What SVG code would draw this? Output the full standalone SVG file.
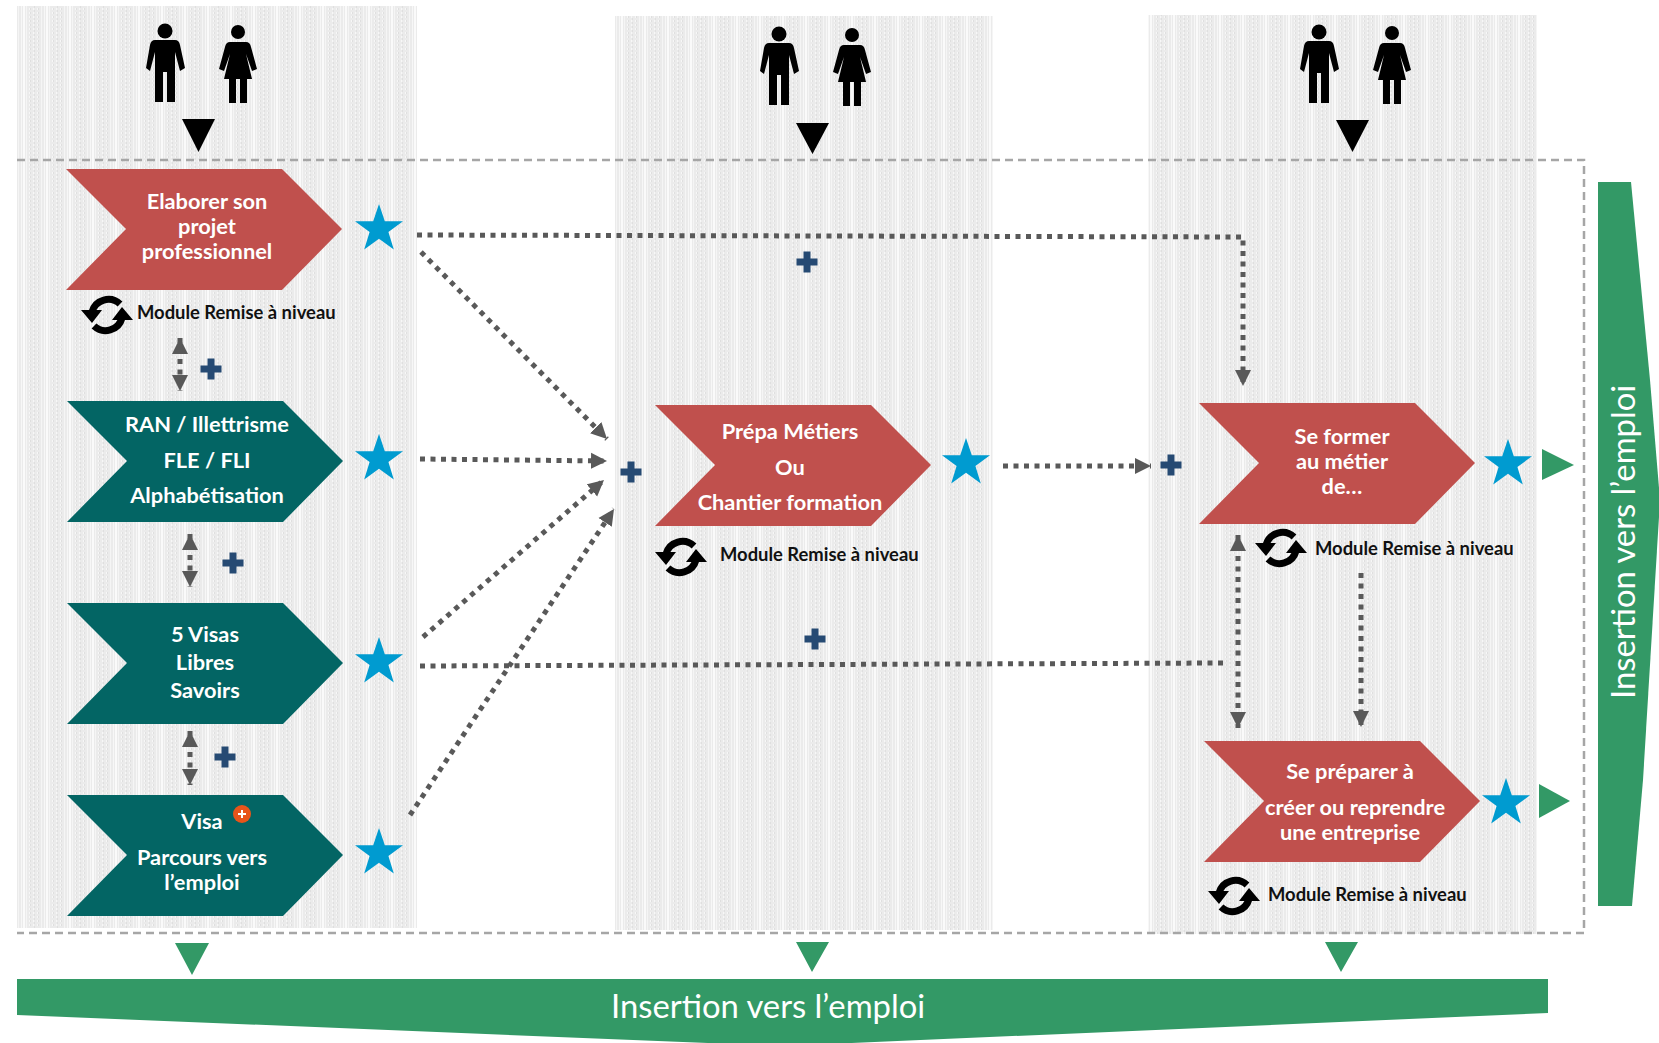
<svg xmlns="http://www.w3.org/2000/svg" width="1659" height="1043" viewBox="0 0 1659 1043">
<style>
.lbl{font-family:"Lato","Open Sans","Liberation Sans",sans-serif;font-size:21.800px;font-weight:700;fill:#fff;text-anchor:middle}
.mod{font-family:"Lato","Open Sans","Liberation Sans",sans-serif;font-size:18.400px;font-weight:700;fill:#111}
.band{font-family:"Lato","Open Sans","Liberation Sans",sans-serif;font-size:32.800px;fill:#fff}
.red{fill:#c0504d}.teal{fill:#036564}.star{fill:#009bd0}.green{fill:#339966}.plus{fill:#264a73}
.dot{fill:none;stroke:#595959;stroke-width:5;stroke-dasharray:5 5.500}
.arr{marker-end:url(#ah)}.both{marker-start:url(#ah);marker-end:url(#ah)}
</style>
<defs>
<pattern id="hatch" width="23" height="4" patternUnits="userSpaceOnUse">
<rect width="23" height="4" fill="#ebebeb"/>
<rect x="0" width="2" height="4" fill="#fafafa"/>
<rect x="3" width="1" height="4" fill="#f5f5f5"/>
<rect x="6" width="1" height="2" fill="#f7f7f7"/><rect x="7" width="1" height="2" fill="#dfdfdf"/>
<rect x="10" width="1" height="2" fill="#f7f7f7"/><rect x="11" y="2" width="1" height="2" fill="#dfdfdf"/>
<rect x="14" width="1" height="2" fill="#f7f7f7"/><rect x="15" width="1" height="2" fill="#dfdfdf"/>
<rect x="18" width="1" height="4" fill="#f5f5f5"/><rect x="21" width="1" height="4" fill="#f7f7f7"/>
</pattern>
<marker id="ah" markerUnits="userSpaceOnUse" markerWidth="18" markerHeight="18" refX="16" refY="8.500" orient="auto-start-reverse"><path d="M0,0.500 L16,8.500 L0,16.500 Z" fill="#595959"/></marker>
<path id="chev" d="M-1,0 H215 L275,60 L215,121 H-1 L59,60 Z"/>
<path id="st" d="M0,-25 L5.800,-7.800 L24,-7.800 L9.400,3 L14.800,20.500 L0,9.800 L-14.800,20.500 L-9.400,3 L-24,-7.800 L-5.800,-7.800 Z"/>
<path id="pl" d="M-3.500,-10.500 H3.500 V-3.500 H10.500 V3.500 H3.500 V10.500 H-3.500 V3.500 H-10.500 V-3.500 H-3.500 Z"/>
<g id="ref">
<path d="M-15,-3 A17,17 0 0 1 13,-11" fill="none" stroke="#000" stroke-width="7"/>
<path d="M15,3 A17,17 0 0 1 -13,11" fill="none" stroke="#000" stroke-width="7"/>
<path d="M-26,-5 L-5,-5 L-15,8 Z M26,5 L5,5 L15,-8 Z" fill="#000"/>
</g>
<g id="folk" fill="#000">
<circle cx="165" cy="31" r="7.500"/>
<path d="M155,40 H175 Q179,40 180,45 L185,68 L180,71 L175,52 V102 H167 V72 H163 V102 H155 V52 L150,71 L146,68 L150,45 Q151,40 155,40 Z"/>
<circle cx="238" cy="32" r="7"/>
<path d="M230,42 H246 Q250,42 251,47 L257,69 L252,71 L246,54 L252,79 H247 V103 H240 V79 H236 V103 H229 V79 H224 L230,54 L224,71 L219,69 L225,47 Q226,42 230,42 Z"/>
</g>
</defs>
<rect width="1659" height="1043" fill="#fff"/>
<g id="columns" fill="url(#hatch)">
<rect x="17" y="6" width="400" height="922"/>
<rect x="615" y="16" width="378" height="914"/>
<rect x="1148" y="15" width="389" height="919"/>
</g>
<path id="frame" d="M17,160 H1584 V933 H17" fill="none" stroke="#a6a6a6" stroke-width="2.500" stroke-dasharray="8 5"/>
<g id="people">
<use href="#folk"/><use href="#folk" x="614" y="3"/><use href="#folk" x="1154" y="1"/>
<path d="M182,119 H215 L198.500,152 Z M796,123 H829 L812.500,154 Z M1336,120 H1369 L1352.500,152 Z"/>
</g>
<g id="connectors">
<path class="dot arr" d="M417,235 L1243,237 V386"/>
<path class="dot arr" d="M421,252 L607,439"/>
<path class="dot arr" d="M420,459 L607,461"/>
<path class="dot arr" d="M423,637 L604,480"/>
<path class="dot arr" d="M410,815 L614,509"/>
<path class="dot" d="M420,666 L1224,663"/>
<path class="dot arr" d="M1003,466 H1151"/>
<path class="dot both" d="M1238,535 V728"/>
<path class="dot arr" d="M1361,573 V727"/>
<path class="dot both" d="M180,338 V391"/>
<path class="dot both" d="M190,534 V587"/>
<path class="dot both" d="M190,731 V785"/>
</g>
<g id="plus-signs" class="plus">
<use href="#pl" x="211" y="369"/><use href="#pl" x="233" y="563"/><use href="#pl" x="225" y="757"/>
<use href="#pl" x="631" y="472"/><use href="#pl" x="807" y="262"/><use href="#pl" x="815" y="639"/><use href="#pl" x="1171" y="465"/>
</g>
<g id="node-elaborer">
<use href="#chev" class="red" x="67" y="169"/>
<text class="lbl" x="207" y="209">Elaborer son</text><text class="lbl" x="207" y="234">projet</text><text class="lbl" x="207" y="259">professionnel</text>
<use href="#st" class="star" x="379" y="229"/>
<use href="#ref" x="107" y="315"/><text class="mod" x="137" y="319">Module Remise à niveau</text>
</g>
<g id="node-ran">
<use href="#chev" class="teal" x="68" y="401"/>
<text class="lbl" x="207" y="432">RAN / Illettrisme</text><text class="lbl" x="207" y="468">FLE / FLI</text><text class="lbl" x="207" y="503">Alphabétisation</text>
<use href="#st" class="star" x="379" y="459"/>
</g>
<g id="node-visas">
<use href="#chev" class="teal" x="68" y="603"/>
<text class="lbl" x="205" y="642">5 Visas</text><text class="lbl" x="205" y="670">Libres</text><text class="lbl" x="205" y="698">Savoirs</text>
<use href="#st" class="star" x="379" y="662"/>
</g>
<g id="node-visa-parcours">
<use href="#chev" class="teal" x="68" y="795"/>
<text class="lbl" x="202" y="829">Visa</text><text class="lbl" x="202" y="865">Parcours vers</text><text class="lbl" x="202" y="890">l’emploi</text>
<circle cx="242" cy="814" r="9" fill="#e8541a"/><path d="M238,814 H246 M242,810 V818" stroke="#fff" stroke-width="2"/>
<use href="#st" class="star" x="379" y="853"/>
</g>
<g id="node-prepa">
<use href="#chev" class="red" x="656" y="405"/>
<text class="lbl" x="790" y="439">Prépa Métiers</text><text class="lbl" x="790" y="475">Ou</text><text class="lbl" x="790" y="510">Chantier formation</text>
<use href="#st" class="star" x="966" y="463"/>
<use href="#ref" x="681" y="557"/><text class="mod" x="720" y="561">Module Remise à niveau</text>
</g>
<g id="node-former">
<use href="#chev" class="red" x="1200" y="403"/>
<text class="lbl" x="1342" y="444">Se former</text><text class="lbl" x="1342" y="469">au métier</text><text class="lbl" x="1342" y="494">de…</text>
<use href="#st" class="star" x="1508" y="464"/>
<use href="#ref" x="1281" y="548"/><text class="mod" x="1315" y="555">Module Remise à niveau</text>
<path class="green" d="M1542,449 L1574,465 L1542,480 Z"/>
</g>
<g id="node-preparer">
<use href="#chev" class="red" x="1205" y="741"/>
<text class="lbl" x="1350" y="779">Se préparer à</text><text class="lbl" x="1355" y="815">créer ou reprendre</text><text class="lbl" x="1350" y="840">une entreprise</text>
<use href="#st" class="star" x="1506" y="803"/>
<use href="#ref" x="1234" y="896"/><text class="mod" x="1268" y="901">Module Remise à niveau</text>
<path class="green" d="M1539,784 L1570,801 L1539,818 Z"/>
</g>
<g id="node-insertion-bottom">
<path class="green" d="M175,943 H209 L192,975 Z M796,942 H829 L812,972 Z M1325,942 H1358 L1341,972 Z"/>
<path class="green" d="M17,979 H1548 V1013 L782,1046 L17,1015 Z"/>
<text class="band" x="611" y="1018">Insertion vers l’emploi</text>
</g>
<g id="node-insertion-right">
<path class="green" d="M1598,182 H1631 L1650,380 L1660,500 L1643,780 L1632,906 H1598 Z"/>
<text class="band" transform="translate(1635,699) rotate(-90)">Insertion vers l’emploi</text>
</g>
</svg>
